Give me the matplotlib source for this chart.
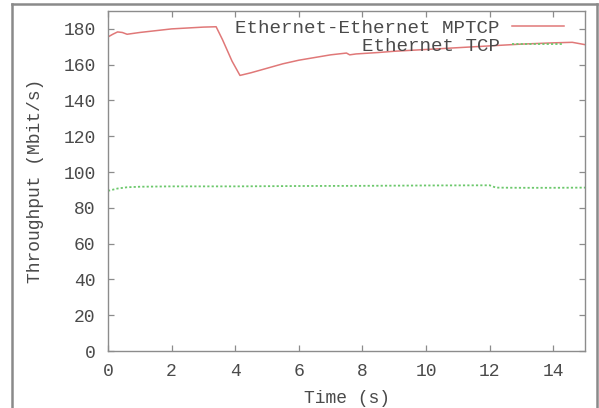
"""Throughput over time: two-path MPTCP against a single Ethernet TCP flow."""

import matplotlib
matplotlib.use("Agg")
import matplotlib.pyplot as plt
from matplotlib.lines import Line2D

# Ethernet-Ethernet MPTCP throughput (Mbit/s) sampled along time (s)
mptcp_time = [0, 0.15, 0.3, 0.45, 0.6, 0.8, 1.0, 1.5, 2.0, 2.5, 3.0, 3.4,
              3.6, 3.9, 4.15, 4.5, 5.0, 5.5, 6.0, 6.5, 7.0, 7.5, 7.6, 7.8,
              8.5, 9.0, 10.0, 11.0, 12.0, 13.0, 14.0, 14.6, 15.0]
mptcp_rate = [175.5, 177.0, 178.3, 178.0, 177.0, 177.5, 178.0, 179.0, 180.0,
              180.5, 181.0, 181.2, 174.0, 162.0, 154.0, 155.5, 158.0, 160.5,
              162.5, 164.0, 165.5, 166.5, 165.5, 166.0, 166.8, 167.5, 168.5,
              169.5, 170.5, 171.5, 172.2, 172.5, 171.2]

# Plain Ethernet TCP throughput (Mbit/s)
tcp_time = [0, 0.3, 0.6, 1.0, 2.0, 4.0, 6.0, 8.0, 10.0, 12.0, 12.2, 13.0, 14.0, 15.0]
tcp_rate = [89.5, 90.8, 91.5, 91.8, 92.0, 92.0, 92.2, 92.3, 92.5, 92.6, 91.3,
            91.2, 91.2, 91.3]

x_ticks = [0, 2, 4, 6, 8, 10, 12, 14]
y_ticks = [0, 20, 40, 60, 80, 100, 120, 140, 160, 180]

text_color = "#4a4a4a"
frame_color = "#8c8c8c"

plt.rcParams["font.family"] = ["Liberation Mono", "DejaVu Sans Mono"]
plt.rcParams["font.size"] = 13

fig = plt.figure(figsize=(5.99, 4.08), dpi=100)
ax = fig.add_axes([108 / 599, 57 / 408, 477 / 599, 340 / 408])

ax.plot(mptcp_time, mptcp_rate, color="#e07878", linewidth=1.1,
        label="Ethernet-Ethernet MPTCP")
ax.plot(tcp_time, tcp_rate, color="#6cc86c", linewidth=1.3,
        linestyle=(0, (1.2, 1.2)), label="Ethernet TCP")

ax.set_xlim(0, 15)
ax.set_ylim(0, 190)
ax.set_xticks(x_ticks)
ax.set_yticks(y_ticks)
ax.tick_params(direction="in", length=4, width=0.9, color=frame_color,
               labelcolor=text_color, top=True, right=True, pad=9)
for spine in ax.spines.values():
    spine.set_color(frame_color)
    spine.set_linewidth(1.0)

ax.set_xlabel("Time (s)", color=text_color, labelpad=7)
ax.set_ylabel("Throughput (Mbit/s)", color=text_color, labelpad=14)

leg = ax.legend(loc="upper right", bbox_to_anchor=(0.98, 1.008), frameon=False,
                markerfirst=False, handlelength=2.7, handletextpad=0.65,
                labelspacing=0.0, borderaxespad=0.2, fontsize=13.8)
for txt in leg.get_texts():
    txt.set_color(text_color)

# Grey border framing the whole figure (open at the bottom)
for xs, ys in [((11.5 / 599, 11.5 / 599), (0, 1 - 4 / 408)),
               ((11.5 / 599, 597 / 599), (1 - 4 / 408, 1 - 4 / 408)),
               ((597 / 599, 597 / 599), (0, 1 - 4 / 408))]:
    fig.add_artist(Line2D(xs, ys, transform=fig.transFigure,
                          color="#8a8a8a", linewidth=1.8))

fig.savefig("out.png", dpi=100)
